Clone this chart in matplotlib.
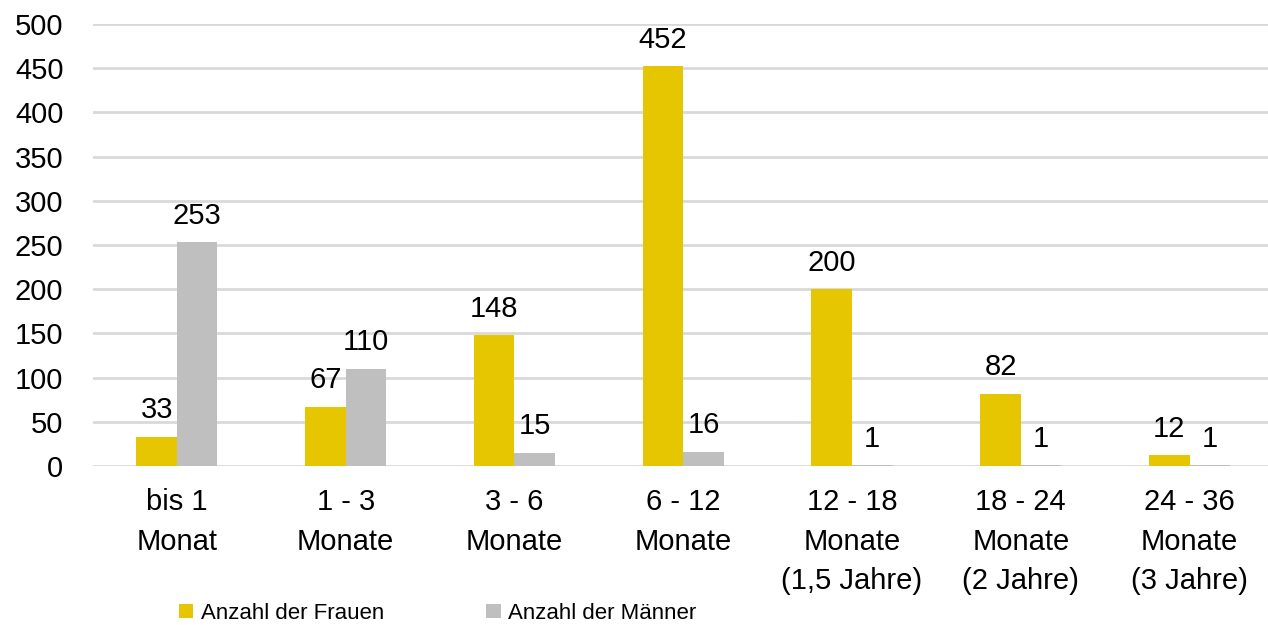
import matplotlib
matplotlib.use("Agg")
import matplotlib.pyplot as plt
import numpy as np

plt.rcParams['font.family'] = ['Liberation Sans Narrow', 'Liberation Sans', 'DejaVu Sans']

categories = ['bis 1\nMonat', '1 - 3\nMonate', '3 - 6\nMonate', '6 - 12\nMonate',
              '12 - 18\nMonate\n(1,5 Jahre)', '18 - 24\nMonate\n(2 Jahre)',
              '24 - 36\nMonate\n(3 Jahre)']
frauen = [33, 67, 148, 452, 200, 82, 12]
maenner = [253, 110, 15, 16, 1, 1, 1]

yellow = '#E5C600'
grey = '#BFBFBF'

fig = plt.figure(figsize=(12.68, 6.25), dpi=100)
ax = fig.add_axes([0.073, 0.2544, 0.927, 0.7072])

x = np.arange(len(categories))
w = 0.24
b1 = ax.bar(x - w/2, frauen, w, color=yellow, label='Anzahl der Frauen', zorder=3)
b2 = ax.bar(x + w/2, maenner, w, color=grey, label='Anzahl der Männer', zorder=3)

for bars in (b1, b2):
    for r in bars:
        ax.text(r.get_x() + r.get_width()/2, r.get_height() + 14, str(int(r.get_height())),
                ha='center', va='bottom', fontsize=21)

ax.set_ylim(0, 500)
ax.set_xlim(-0.5, 6.465)
ax.set_yticks(range(0, 501, 50))
ax.yaxis.grid(True, color='#D9D9D9', linewidth=2, zorder=0)
ax.set_axisbelow(True)
for s in ax.spines.values():
    s.set_visible(False)
ax.tick_params(axis='both', length=0, labelsize=21)
ax.tick_params(axis='y', pad=21)
ax.tick_params(axis='x', pad=16)
ax.set_xticks(x)
ax.set_xticklabels(categories, linespacing=1.52)

fig.legend(handles=[b1, b2], loc='lower left', bbox_to_anchor=(0.125, -0.03),
           ncol=2, frameon=False, fontsize=16, handlelength=0.65, handleheight=0.65,
           columnspacing=4.6, handletextpad=0.35)

fig.savefig('out.png', dpi=100)
